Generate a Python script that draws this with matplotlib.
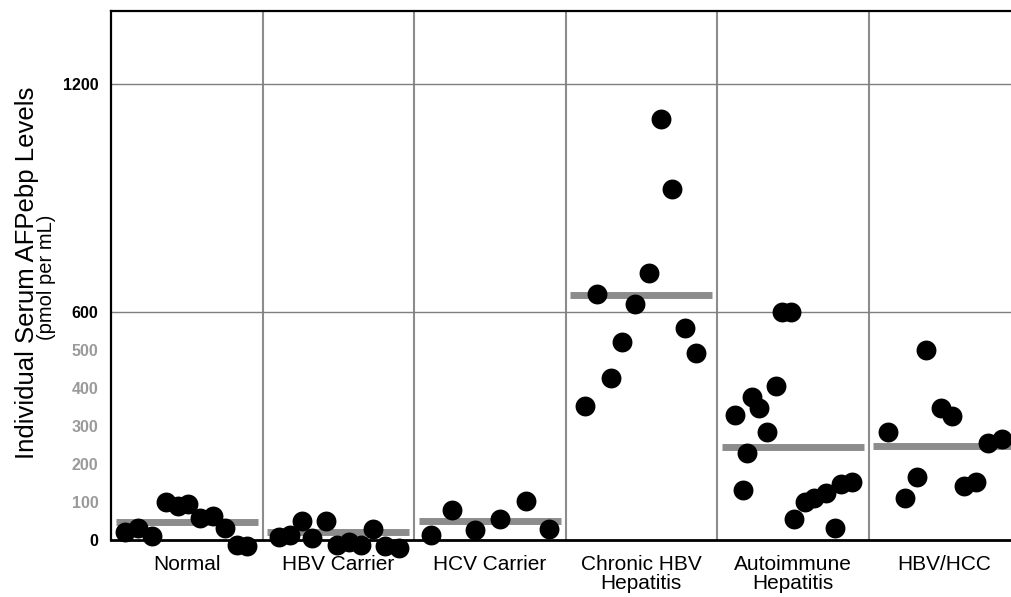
import matplotlib
matplotlib.use("Agg")
import matplotlib.pyplot as plt

INK = "#000000"
GREY = "#8c8c8c"
TICK_GREY = "#9a9a9a"

plt.rcParams.update({"font.family": ["Liberation Sans", "DejaVu Sans"]})

groups = ["Normal", "HBV Carrier", "HCV Carrier", "Chronic HBV\nHepatitis",
          "Autoimmune\nHepatitis", "HBV/HCC"]

# x position of each dot inside its group (fraction of group width)
normal_x = [0.09, 0.18, 0.27, 0.36, 0.44, 0.51, 0.59, 0.67, 0.75, 0.83, 0.90]
normal_y = [22, 32, 10, 101, 90, 95, 58, 64, 32, -13, -15]

hbv_x = [0.11, 0.18, 0.26, 0.33, 0.42, 0.49, 0.57, 0.65, 0.73, 0.81, 0.90]
hbv_y = [8, 13, 49, 6, 51, -13, -6, -13, 30, -15, -21]

hcv_x = [0.11, 0.25, 0.40, 0.57, 0.74, 0.89]
hcv_y = [13, 79, 25, 55, 103, 29]

chronic_x = [0.13, 0.21, 0.30, 0.37, 0.46, 0.55, 0.63, 0.70, 0.79, 0.86]
chronic_y = [353, 647, 427, 522, 621, 702, 1107, 924, 557, 493]

auto_x = [0.12, 0.17, 0.20, 0.23, 0.28, 0.33, 0.39, 0.43, 0.49, 0.51,
          0.58, 0.64, 0.72, 0.78, 0.82, 0.89]
auto_y = [329, 132, 230, 377, 347, 285, 405, 599, 601, 54,
          101, 110, 123, 31, 147, 153]

hcc_x = [0.13, 0.24, 0.32, 0.38, 0.48, 0.55, 0.63, 0.71, 0.79, 0.88]
hcc_y = [283, 110, 167, 500, 348, 327, 143, 153, 254, 265]

means = [47, 21, 49, 645, 246, 248]

xs = [normal_x, hbv_x, hcv_x, chronic_x, auto_x, hcc_x]
ys = [normal_y, hbv_y, hcv_y, chronic_y, auto_y, hcc_y]

yticks = [0, 100, 200, 300, 400, 500, 600, 1200]

fig = plt.figure(figsize=(10.11, 5.97), dpi=100)
ax = fig.add_axes([111 / 1011, 57 / 597, 909 / 1011, 529 / 597])
ax.set_xlim(0, len(groups))
ax.set_ylim(0, 1392)

for i in range(1, len(groups)):
    ax.axvline(i, color=GREY, linewidth=1.5, zorder=1)
for v in (600, 1200):
    ax.axhline(v, color="#7f7f7f", linewidth=1.0, zorder=1)

for i, (gx, gy, m) in enumerate(zip(xs, ys, means)):
    ax.plot([i + 0.03, i + 0.97], [m, m], color=GREY, linewidth=5,
            solid_capstyle="butt", zorder=2)
    ax.scatter([i + x for x in gx], gy, s=205, color=INK, linewidths=0,
               zorder=4, clip_on=False)

for side in ["left", "bottom", "top"]:
    ax.spines[side].set_color(INK)
ax.spines["left"].set_linewidth(1.6)
ax.spines["top"].set_linewidth(1.6)
ax.spines["bottom"].set_linewidth(2.0)
ax.spines["right"].set_visible(False)

ax.set_yticks(yticks)
ax.set_yticklabels([str(t) for t in yticks])
for t, lab in zip(yticks, ax.get_yticklabels()):
    lab.set_color(INK if t in (0, 600, 1200) else TICK_GREY)
    lab.set_fontweight("bold")
ax.tick_params(axis="y", length=0, pad=9, labelsize=11.5)

ax.set_xticks([i + 0.5 for i in range(len(groups))])
ax.set_xticklabels(groups, linespacing=0.95)
ax.tick_params(axis="x", length=0, pad=11, labelsize=15)

fig.text(27 / 1011, 1 - 273 / 597, "Individual Serum AFPebp Levels",
         rotation=90, ha="center", va="center", fontsize=18.5, color=INK)
fig.text(47 / 1011, 1 - 277 / 597, "(pmol per mL)",
         rotation=90, ha="center", va="center", fontsize=14.5, color=INK)

fig.savefig("out.png", dpi=100, facecolor="white")
